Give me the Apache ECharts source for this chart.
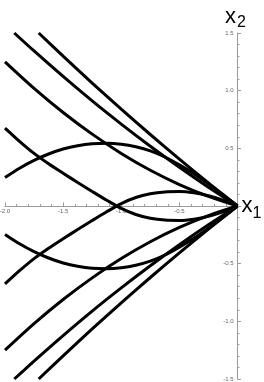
<!DOCTYPE html>
<html>
<head>
<meta charset="utf-8">
<script src="https://cdn.jsdelivr.net/npm/echarts@6/dist/echarts.min.js"></script>
<style>
html,body{margin:0;padding:0;background:#fff;}
#chart{width:264px;height:382px;}
</style>
</head>
<body>
<div id="chart"></div>
<script>
// x-axis and y-axis ranges / ticks
const xTicks = [-2.0, -1.5, -1.0, -0.5, 0];
const yTicks = [-1.5, -1.0, -0.5, 0, 0.5, 1.0, 1.5];
const axisNames = { x: ['x', '1'], y: ['x', '2'] };

// upper family of curves (x1, x2)
const lineA_up = [[-1.92,1.50],[-1.75,1.344],[-1.5,1.123],[-1.25,0.911],[-1,0.710],[-0.75,0.518],[-0.5,0.336],[-0.25,0.163],[0,0]];
const lineB_up = [[-1.71,1.50],[-1.5,1.299],[-1.25,1.066],[-1,0.840],[-0.75,0.620],[-0.5,0.407],[-0.25,0.200],[0,0]];
const lineC_up = [[-2,1.25],[-1.75,1.02],[-1.5,0.811],[-1.25,0.623],[-1,0.456],[-0.75,0.310],[-0.5,0.186],[-0.25,0.083],[0,0]];
const arc_up   = [[-2,0.247],[-1.875,0.328],[-1.75,0.396],[-1.625,0.451],[-1.5,0.494],[-1.375,0.523],[-1.25,0.540],[-1.125,0.544],
                  [-1,0.535],[-0.875,0.513],[-0.75,0.478],[-0.625,0.425],[-0.5,0.357],[-0.375,0.280],[-0.25,0.192],[-0.125,0.098],[0,0]];
const wave_up  = [[-2,0.676],[-1.875,0.561],[-1.75,0.456],[-1.625,0.366],[-1.5,0.284],[-1.375,0.204],[-1.25,0.126],[-1.125,0.050],
                  [-1,-0.021],[-0.875,-0.074],[-0.75,-0.106],[-0.625,-0.122],[-0.5,-0.125],[-0.375,-0.114],[-0.25,-0.089],[-0.125,-0.051],[0,0]];

// lower family of curves (x1, x2)
const lineA_dn = [[-1.92,-1.50],[-1.75,-1.344],[-1.5,-1.123],[-1.25,-0.911],[-1,-0.710],[-0.75,-0.518],[-0.5,-0.336],[-0.25,-0.163],[0,0]];
const lineB_dn = [[-1.71,-1.50],[-1.5,-1.299],[-1.25,-1.066],[-1,-0.840],[-0.75,-0.620],[-0.5,-0.407],[-0.25,-0.200],[0,0]];
const lineC_dn = [[-2,-1.25],[-1.75,-1.02],[-1.5,-0.811],[-1.25,-0.623],[-1,-0.456],[-0.75,-0.310],[-0.5,-0.186],[-0.25,-0.083],[0,0]];
const arc_dn   = [[-2,-0.247],[-1.875,-0.328],[-1.75,-0.396],[-1.625,-0.451],[-1.5,-0.494],[-1.375,-0.523],[-1.25,-0.540],[-1.125,-0.544],
                  [-1,-0.535],[-0.875,-0.513],[-0.75,-0.478],[-0.625,-0.425],[-0.5,-0.357],[-0.375,-0.280],[-0.25,-0.192],[-0.125,-0.098],[0,0]];
const wave_dn  = [[-2,-0.676],[-1.875,-0.561],[-1.75,-0.456],[-1.625,-0.366],[-1.5,-0.284],[-1.375,-0.204],[-1.25,-0.126],[-1.125,-0.050],
                  [-1,0.021],[-0.875,0.074],[-0.75,0.106],[-0.625,0.122],[-0.5,0.125],[-0.375,0.114],[-0.25,0.089],[-0.125,0.051],[0,0]];

const curves = [lineA_up, lineB_up, lineC_up, arc_up, wave_up, lineA_dn, lineB_dn, lineC_dn, arc_dn, wave_dn];

const chart = echarts.init(document.getElementById('chart'), null, {renderer:'canvas'});
const axisGray = '#9a9a9a';
const labelGray = '#666';
const fmt = v => (Math.abs(v) < 1e-9 ? '' : v.toFixed(1));
const gridTop = 33, gridBottom = 3, plotH = 382 - gridTop - gridBottom;

const option = {
  animation: false,
  backgroundColor: '#fff',
  grid: [
    { left: 5, right: 26.5, top: gridTop, bottom: gridBottom, outerBoundsMode: 'none', containLabel: false },
    { left: 5, right: 26.5, top: gridTop, height: plotH / 2, outerBoundsMode: 'none', containLabel: false }
  ],
  xAxis: [
    { gridIndex: 0, type: 'value', min: xTicks[0], max: xTicks[xTicks.length-1], interval: 0.5, show: false },
    {
      gridIndex: 1, type: 'value', position: 'bottom', min: xTicks[0], max: xTicks[xTicks.length-1], interval: 0.5,
      axisLine: { onZero: false, lineStyle: { color: axisGray, width: 1 } },
      axisTick: { inside: true, length: 3.5, lineStyle: { color: axisGray } },
      minorTick: { show: true, splitNumber: 5, length: 2, lineStyle: { color: axisGray } },
      axisLabel: { formatter: fmt, fontSize: 6, color: labelGray, margin: 2, fontFamily: 'Liberation Sans' },
      splitLine: { show: false }
    }
  ],
  yAxis: [
    {
      gridIndex: 0, type: 'value', position: 'right', min: yTicks[0], max: yTicks[yTicks.length-1], interval: 0.5,
      axisLine: { onZero: false, lineStyle: { color: axisGray, width: 1 } },
      axisTick: { inside: false, length: 3.5, lineStyle: { color: axisGray } },
      minorTick: { show: true, splitNumber: 5, length: 2, lineStyle: { color: axisGray } },
      axisLabel: { inside: true, formatter: fmt, fontSize: 6, color: labelGray, margin: 4, fontFamily: 'Liberation Sans' },
      splitLine: { show: false }
    },
    { gridIndex: 1, type: 'value', min: 0, max: 1.5, show: false }
  ],
  graphic: [
    { type: 'text', left: 225, top: 6, style: { text: axisNames.y[0], font: '22px "Liberation Sans"', fill: '#000' } },
    { type: 'text', left: 237, top: 15, style: { text: axisNames.y[1], font: '16px "Liberation Sans"', fill: '#000' } },
    { type: 'text', left: 241.5, top: 195, style: { text: axisNames.x[0], font: '22px "Liberation Sans"', fill: '#000' } },
    { type: 'text', left: 252.5, top: 205.5, style: { text: axisNames.x[1], font: '16px "Liberation Sans"', fill: '#000' } }
  ],
  series: curves.map(d => ({
    type: 'line', xAxisIndex: 0, yAxisIndex: 0, data: d, showSymbol: false, symbol: 'none', smooth: 0.3, clip: true,
    lineStyle: { color: '#000', width: 3 }
  }))
};
chart.setOption(option);
</script>
</body>
</html>
